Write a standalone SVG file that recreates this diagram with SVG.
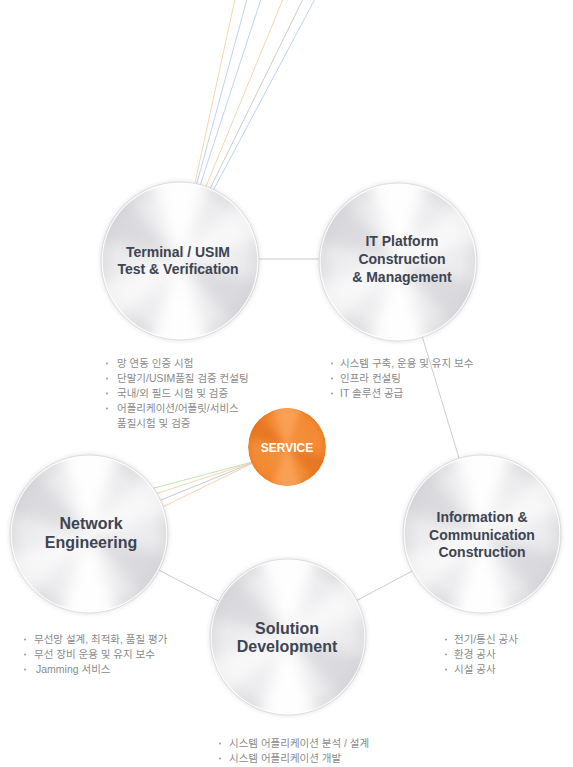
<svg xmlns="http://www.w3.org/2000/svg" xmlns:xlink="http://www.w3.org/1999/xlink" width="573" height="767" viewBox="0 0 573 767">
<style>
.t{font-family:"Liberation Sans",Arial,sans-serif;font-weight:bold;fill:#3d4452;text-anchor:middle;}
.t14{font-size:14px;}
.t16{font-size:16px;}
.sv{font-family:"Liberation Sans",Arial,sans-serif;font-weight:bold;font-size:12px;fill:#fff;text-anchor:middle;}
.k{font-family:"Liberation Sans","Noto Sans CJK KR",sans-serif;font-size:10.5px;fill:#8a8a8a;}
.dot{fill:#9a9a9a;}
.c{stroke:#c9ccd6;stroke-width:1;fill:none;}
.or{stroke:#f5d6ad;stroke-width:1;fill:none;}
.bl{stroke:#bcd3f5;stroke-width:1;fill:none;}
.gy{stroke:#cccccc;stroke-width:1;fill:none;}
.gr{stroke:#bfe4b6;stroke-width:1;fill:none;}
.gb{stroke:#c6c9d8;stroke-width:1;fill:none;}
</style>
<defs>
<clipPath id="cc"><circle r="80"/></clipPath>
<filter id="bl" x="-30%" y="-30%" width="160%" height="160%"><feGaussianBlur stdDeviation="7"/></filter>
<filter id="sh" x="-20%" y="-20%" width="140%" height="140%"><feGaussianBlur stdDeviation="2"/></filter>
<radialGradient id="base" cx="0.5" cy="0.5" r="0.5"><stop offset="0" stop-color="#f7f7f8"/><stop offset="0.8" stop-color="#ebebed"/><stop offset="1" stop-color="#dfdfe2"/></radialGradient>
<radialGradient id="obase" cx="0.5" cy="0.5" r="0.5"><stop offset="0" stop-color="#f6923e"/><stop offset="0.85" stop-color="#f38a33"/><stop offset="1" stop-color="#ec7f26"/></radialGradient>
<g id="metal">
 <circle r="81.5" fill="#000" opacity="0.08" filter="url(#sh)"/>
 <g clip-path="url(#cc)">
  <circle r="80" fill="url(#base)"/>
  <g filter="url(#bl)">
   <path d="M0,0 L-37.6,-103.4 A110,110 0 0,1 37.6,-103.4 Z" fill="#ffffff" opacity="0.95"/>
   <path d="M0,0 L37.6,103.4 A110,110 0 0,1 -37.6,103.4 Z" fill="#ffffff" opacity="0.95"/>
   <path d="M0,0 L77.8,-77.8 A110,110 0 0,1 106.3,-28.5 Z" fill="#ffffff" opacity="0.6"/>
   <path d="M0,0 L-77.8,77.8 A110,110 0 0,1 -106.3,28.5 Z" fill="#ffffff" opacity="0.6"/>
   <path d="M0,0 L-106.3,-28.5 A110,110 0 0,1 -70.7,-84.3 Z" fill="#cfcfd3" opacity="0.6"/>
   <path d="M0,0 L106.3,28.5 A110,110 0 0,1 70.7,84.3 Z" fill="#cfcfd3" opacity="0.6"/>
  </g>
 </g>
 <circle r="79" fill="none" stroke="#ffffff" stroke-width="1.5" opacity="0.85"/>
 <circle r="80" fill="none" stroke="#d6d6d9" stroke-width="0.8"/>
</g>
<g id="ometal">
 <g clip-path="url(#cc)">
  <circle r="80" fill="url(#obase)"/>
  <g filter="url(#bl)">
   <path d="M0,0 L-37.6,-103.4 A110,110 0 0,1 37.6,-103.4 Z" fill="#f9a35c" opacity="0.85"/>
   <path d="M0,0 L37.6,103.4 A110,110 0 0,1 -37.6,103.4 Z" fill="#f9a35c" opacity="0.85"/>
   <path d="M0,0 L-106.3,-28.5 A110,110 0 0,1 -70.7,-84.3 Z" fill="#e2711b" opacity="0.7"/>
   <path d="M0,0 L106.3,28.5 A110,110 0 0,1 70.7,84.3 Z" fill="#e2711b" opacity="0.7"/>
  </g>
 </g>
</g>
</defs>

<g id="connectors">
 <line class="or" x1="235" y1="-1" x2="192.4" y2="195"/>
 <line class="bl" x1="247" y1="-1" x2="193.7" y2="195"/>
 <line class="bl" x1="261" y1="-1" x2="197" y2="195"/>
 <line class="or" x1="283" y1="-1" x2="202.5" y2="195"/>
 <line class="gy" x1="303" y1="-1" x2="207" y2="195"/>
 <line class="bl" x1="315" y1="-1" x2="210.8" y2="195"/>
 <line class="c" x1="180" y1="259" x2="397" y2="259"/>
 <line class="c" x1="400" y1="263" x2="482" y2="534"/>
 <line class="c" x1="482" y1="534" x2="288" y2="637"/>
 <line class="c" x1="89" y1="534" x2="288" y2="637"/>
 <line class="gr" x1="252" y1="462" x2="140" y2="491.8"/>
 <line class="or" x1="252" y1="462.5" x2="140" y2="499"/>
 <line class="gb" x1="252" y1="463" x2="140" y2="508.5"/>
 <line class="or" x1="252" y1="463.5" x2="140" y2="518"/>
</g>

<g id="terminal">
 <use xlink:href="#metal" href="#metal" transform="translate(180,261) scale(0.9875)"/>
 <text class="t t14" x="178" y="257">Terminal / USIM</text>
 <text class="t t14" x="178" y="274">Test &amp; Verification</text>
</g>

<g id="itplatform">
 <use xlink:href="#metal" href="#metal" transform="translate(398,262) scale(0.9875)"/>
 <text class="t t14" x="402" y="246">IT Platform</text>
 <text class="t t14" x="402" y="264">Construction</text>
 <text class="t t14" x="402" y="282">&amp; Management</text>
</g>

<g id="information">
 <use xlink:href="#metal" href="#metal" transform="translate(482,534) scale(0.9875)"/>
 <text class="t t14" x="482" y="522">Information &amp;</text>
 <text class="t t14" x="482" y="539.5">Communication</text>
 <text class="t t14" x="482" y="557">Construction</text>
</g>

<g id="network">
 <use xlink:href="#metal" href="#metal" transform="translate(89,534) scale(0.9875)"/>
 <text class="t t16" x="91" y="529">Network</text>
 <text class="t t16" x="91" y="548">Engineering</text>
</g>

<g id="solution">
 <use xlink:href="#metal" href="#metal" transform="translate(288,637) scale(0.975)"/>
 <text class="t t16" x="287" y="634">Solution</text>
 <text class="t t16" x="287" y="652">Development</text>
</g>

<g id="service">
 <use xlink:href="#ometal" href="#ometal" transform="translate(287,447) scale(0.4875)"/>
 <text class="sv" x="287" y="452">SERVICE</text>
</g>

<g id="terminal-items">
 <circle class="dot" cx="107" cy="363.5" r="1"/>
 <circle class="dot" cx="107" cy="378.5" r="1"/>
 <circle class="dot" cx="107" cy="393.5" r="1"/>
 <circle class="dot" cx="107" cy="408.5" r="1"/>
 <text class="k" x="117" y="367">망 연동 인증 시험</text>
 <text class="k" x="117" y="382">단말기/USIM품질 검증 컨설팅</text>
 <text class="k" x="117" y="397">국내/외 필드 시험 및 검증</text>
 <text class="k" x="117" y="412">어플리케이션/어플릿/서비스</text>
 <text class="k" x="117" y="427">품질시험 및 검증</text>
</g>

<g id="it-items">
 <circle class="dot" cx="332" cy="363.5" r="1"/>
 <circle class="dot" cx="332" cy="378.5" r="1"/>
 <circle class="dot" cx="332" cy="393.5" r="1"/>
 <text class="k" x="340" y="367">시스템 구축, 운용 및 유지 보수</text>
 <text class="k" x="340" y="382">인프라 컨설팅</text>
 <text class="k" x="340" y="397">IT 솔루션 공급</text>
</g>

<g id="network-items">
 <circle class="dot" cx="25" cy="639.5" r="1"/>
 <circle class="dot" cx="25" cy="654.5" r="1"/>
 <circle class="dot" cx="25" cy="669.5" r="1"/>
 <text class="k" x="34" y="643">무선망 설계, 최적화, 품질 평가</text>
 <text class="k" x="34" y="658">무선 장비 운용 및 유지 보수</text>
 <text class="k" x="36" y="673">Jamming 서비스</text>
</g>

<g id="information-items">
 <circle class="dot" cx="446" cy="639.5" r="1"/>
 <circle class="dot" cx="446" cy="654.5" r="1"/>
 <circle class="dot" cx="446" cy="669.5" r="1"/>
 <text class="k" x="454" y="643">전기/통신 공사</text>
 <text class="k" x="454" y="658">환경 공사</text>
 <text class="k" x="454" y="673">시설 공사</text>
</g>

<g id="solution-items">
 <circle class="dot" cx="220" cy="743.5" r="1"/>
 <circle class="dot" cx="220" cy="758.5" r="1"/>
 <text class="k" x="229" y="747">시스템 어플리케이션 분석 / 설계</text>
 <text class="k" x="229" y="762">시스템 어플리케이션 개발</text>
</g>
</svg>
